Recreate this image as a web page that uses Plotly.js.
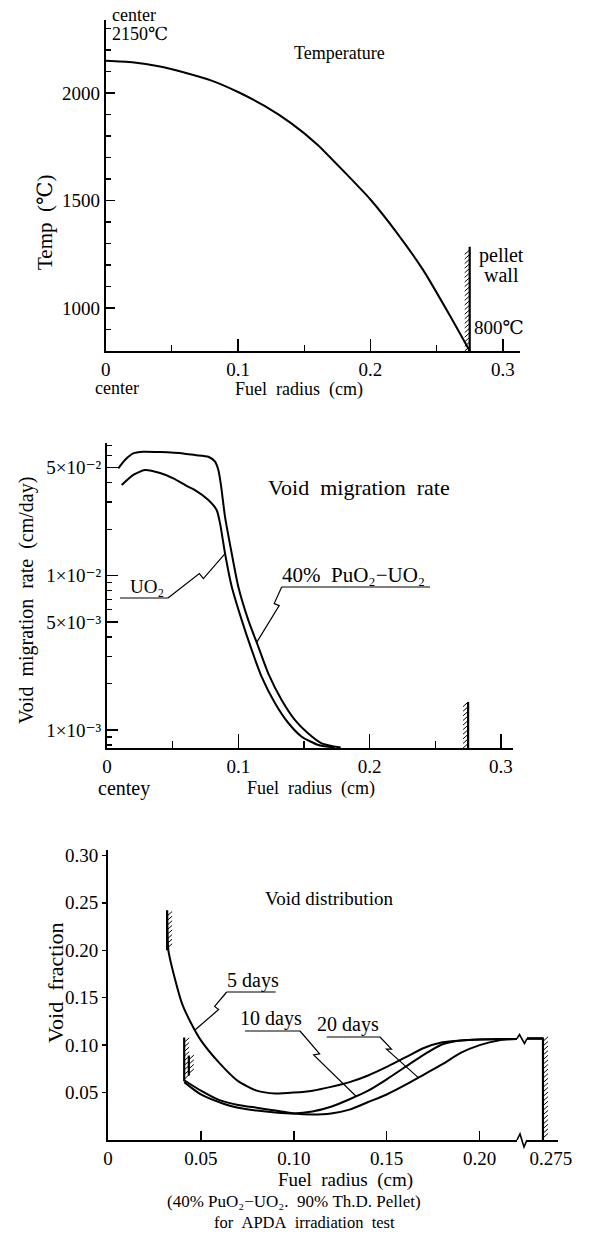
<!DOCTYPE html>
<html><head><meta charset="utf-8">
<script src="https://cdn.plot.ly/plotly-3.0.1.min.js"></script>
<style>html,body{margin:0;padding:0;background:#fff;} #chart{width:590px;height:1235px;}</style>
</head><body><div id="chart"></div>
<script>
// ---------------- data ----------------
// Temperature profile
const tempRadius = [0, 0.02, 0.04, 0.06, 0.08, 0.10, 0.12, 0.14, 0.16, 0.18, 0.20, 0.22, 0.24, 0.26, 0.275];
const tempValues = [2150, 2143, 2125, 2095, 2058, 2005, 1940, 1860, 1760, 1635, 1505, 1350, 1175, 965, 800];
const tempTickX = [0, 0.1, 0.2, 0.3];
const tempTickXText = ['0', '0.1', '0.2', '0.3'];
const tempTickY = [1000, 1500, 2000];
const tempTickYText = ['1000', '1500', '2000'];

// Void migration rate (cm/day)
const puRadius = [0.0086, 0.0137, 0.020, 0.0276, 0.0404, 0.0581, 0.067, 0.0772, 0.0823, 0.0848, 0.0868, 0.0899, 0.095, 0.100, 0.1076, 0.1152, 0.1228, 0.1331, 0.1432, 0.1533, 0.1635, 0.178];
const puRate   = [0.0495, 0.0561, 0.0619, 0.0634, 0.0631, 0.0619, 0.0604, 0.0589, 0.0547, 0.0483, 0.0386, 0.0240, 0.0139, 0.00847, 0.00515, 0.00347, 0.00233, 0.00156, 0.00116, 0.00095, 0.00082, 0.00077];
const uoRadius = [0.0112, 0.020, 0.0289, 0.0404, 0.0505, 0.0609, 0.067, 0.0772, 0.0835, 0.0861, 0.0899, 0.095, 0.1026, 0.1102, 0.1178, 0.128, 0.1381, 0.1483, 0.161, 0.1736];
const uoRate   = [0.0386, 0.0449, 0.0483, 0.0462, 0.0427, 0.0380, 0.0358, 0.0309, 0.0266, 0.0218, 0.0139, 0.00847, 0.00515, 0.0033, 0.00221, 0.00149, 0.00111, 0.000905, 0.0008, 0.00077];
const rateTickVals = [0.001, 0.005, 0.01, 0.05];
const rateTickText = ['1×10⁻³', '5×10⁻³', '1×10⁻²', '5×10⁻²'];
const rateMinorVals = [0.0008, 0.0009, 0.002, 0.003, 0.004, 0.006, 0.007, 0.008, 0.009, 0.02, 0.03, 0.04, 0.06, 0.07];
const rateTickX = [0, 0.1, 0.2, 0.3];
const rateTickXText = ['0', '0.1', '0.2', '0.3'];

// Void distribution (void fraction)
const day5Radius  = [0.0318, 0.0325, 0.036, 0.040, 0.045, 0.050, 0.060, 0.070, 0.080, 0.090, 0.100, 0.110, 0.120, 0.130, 0.140, 0.150, 0.160, 0.170, 0.180, 0.190, 0.200, 0.210, 0.275];
const day5Void    = [0.242, 0.200, 0.170, 0.143, 0.122, 0.105, 0.081, 0.062, 0.052, 0.049, 0.050, 0.052, 0.056, 0.061, 0.068, 0.077, 0.087, 0.097, 0.103, 0.105, 0.106, 0.1065, 0.107];
const day10Radius = [0.041, 0.050, 0.0625, 0.070, 0.080, 0.090, 0.100, 0.110, 0.120, 0.130, 0.140, 0.150, 0.160, 0.170, 0.180, 0.190, 0.200, 0.275];
const day10Void   = [0.061, 0.048, 0.038, 0.034, 0.031, 0.029, 0.028, 0.030, 0.035, 0.043, 0.052, 0.064, 0.077, 0.090, 0.101, 0.105, 0.106, 0.107];
const day20Radius = [0.041, 0.050, 0.060, 0.070, 0.080, 0.090, 0.100, 0.110, 0.120, 0.130, 0.140, 0.150, 0.160, 0.170, 0.180, 0.190, 0.200, 0.210, 0.220, 0.275];
const day20Void   = [0.063, 0.052, 0.042, 0.037, 0.034, 0.031, 0.028, 0.027, 0.028, 0.032, 0.040, 0.048, 0.058, 0.069, 0.080, 0.092, 0.100, 0.105, 0.1065, 0.107];
const voidTickX = [0, 0.05, 0.10, 0.15, 0.20];
const voidTickXText = ['0', '0.05', '0.10', '0.15', '0.20'];
const voidTickY = [0.05, 0.10, 0.15, 0.20, 0.25, 0.30];
const voidTickYText = ['0.05', '0.10', '0.15', '0.20', '0.25', '0.30'];

// pellet walls (data units)
const pelletWallRadius = 0.275;
const tempWallTop = 1285;
const rateWallTop = 0.00152;
const voidWallRadius = [0.0318, 0.041, 0.0435, 0.275];
const voidWallLow    = [0.200, 0.062, 0.068, 0];
const voidWallHigh   = [0.242, 0.108, 0.089, 0.108];

// ---------------- frame ----------------
const W = 590, H = 1235;
const P = {
  top:  {x0:105.7, x1:520, y0:351, y1:20},
  mid:  {x0:107,   x1:513, y0:748, y1:443},
  bot:  {x0:108,   x1:517, y0:1140, y1:850},
  bot2: {x0:527,   x1:558, y0:1140, y1:850}
};
const R = {
  top:  {x:[0,0.313],       y:[800,2340],        log:false},
  mid:  {x:[0,0.3092],      y:[-3.1166,-1.141],  log:true},
  bot:  {x:[0,0.2201],      y:[0,0.3057],        log:false},
  bot2: {x:[0.2664,0.2831], y:[0,0.3057],        log:false}
};
function px(k,r){const p=P[k],q=R[k];return p.x0+(r-q.x[0])/(q.x[1]-q.x[0])*(p.x1-p.x0);}
function py(k,v){const p=P[k],q=R[k];const f=q.log?Math.log10(v):v;return p.y0-(f-q.y[0])/(q.y[1]-q.y[0])*(p.y0-p.y1);}
const fx = x => x/W, fy = y => 1 - y/H;
function domX(k){return [fx(P[k].x0), fx(P[k].x1)];}
function domY(k){return [fy(P[k].y0), fy(P[k].y1)];}

const FONT = 'Liberation Serif, "DejaVu Serif", serif';
const shapes = [];
const annotations = [];
function pathStr(pts){return pts.map((p,i)=>(i?'L':'M')+fx(p[0]).toFixed(5)+','+fy(p[1]).toFixed(5)).join(' ');}
function lineShape(pts,w){shapes.push({type:'path',xref:'paper',yref:'paper',path:pathStr(pts),line:{color:'#000',width:w}});}
function multiShape(segs,w){shapes.push({type:'path',xref:'paper',yref:'paper',path:segs.map(pathStr).join(' '),line:{color:'#000',width:w}});}
function wall(k, r, v0, v1, side){
  const x=px(k,r), ya=py(k,v0), yb=py(k,v1);
  lineShape([[x,ya],[x,yb]],2.2);
  const segs=[];
  for(let y=ya-2; y>yb+2; y-=4.6){
    segs.push(side<0 ? [[x-5,y+2],[x,y-2.5]] : [[x,y],[x+5,y-4.5]]);
  }
  multiShape(segs,1);
}
function interp(xs, ys, r, log){
  for(let i=0;i<xs.length-1;i++){
    if(r>=xs[i] && r<=xs[i+1]){
      const t=(r-xs[i])/(xs[i+1]-xs[i]);
      if(log) return Math.pow(10, Math.log10(ys[i])+t*(Math.log10(ys[i+1])-Math.log10(ys[i])));
      return ys[i]+t*(ys[i+1]-ys[i]);
    }
  }
  return ys[ys.length-1];
}
function leader(k, S, r, xs, ys, t, jog){
  const T=[px(k,r), py(k, interp(xs,ys,r,R[k].log))];
  const P1=[S[0]+(T[0]-S[0])*t, S[1]+(T[1]-S[1])*t];
  const P2=[P1[0]+jog[0], P1[1]+jog[1]];
  lineShape([S,P1,P2,T],1.2);
}
function note(text,x,y,size,xanchor,angle){
  annotations.push({text:text, x:fx(x), y:fy(y), xref:'paper', yref:'paper', showarrow:false,
    xanchor:xanchor||'left', yanchor:'middle', textangle:angle||0, font:{family:FONT,size:size,color:'#000'}});
}
const S2 = '\u00a0\u00a0';

// ---------------- traces ----------------
const lineStyle = {color:'#000', width:2, shape:'spline', smoothing:0.6};
const traces = [
  {x:tempRadius, y:tempValues, xaxis:'x', yaxis:'y', mode:'lines', line:lineStyle, name:'Temperature'},
  {x:puRadius, y:puRate, xaxis:'x2', yaxis:'y2', mode:'lines', line:lineStyle, name:'40% PuO2-UO2'},
  {x:uoRadius, y:uoRate, xaxis:'x2', yaxis:'y2', mode:'lines', line:lineStyle, name:'UO2'}
];
[[day5Radius,day5Void,'5 days'],[day10Radius,day10Void,'10 days'],[day20Radius,day20Void,'20 days']].forEach(s=>{
  traces.push({x:s[0], y:s[1], xaxis:'x3', yaxis:'y3', mode:'lines', line:lineStyle, name:s[2]});
  traces.push({x:s[0], y:s[1], xaxis:'x4', yaxis:'y3', mode:'lines', line:lineStyle, name:s[2], showlegend:false});
});

// ---------------- decorations ----------------
wall('top', pelletWallRadius, R.top.y[0], tempWallTop, -1);
wall('mid', pelletWallRadius, Math.pow(10,R.mid.y[0]), rateWallTop, -1);
for(let i=0;i<voidWallRadius.length;i++){
  const k = voidWallRadius[i] > R.bot.x[1] ? 'bot2' : 'bot';
  wall(k, voidWallRadius[i], voidWallLow[i], voidWallHigh[i], 1);
}
// axis break and curve break on void distribution
lineShape([[517,1140],[520,1134],[524,1147],[527,1140]],1.6);
const yb = py('bot', 0.107);
lineShape([[517,yb],[519.5,yb-4],[524.5,yb+5],[527,yb]],1.6);

// labels with underlines and leaders
lineShape([[120,598],[168,598]],1.2);
leader('mid',[168,598],0.0899,uoRadius,uoRate,0.55,[4,5]);
lineShape([[281.7,587],[430,587]],1.2);
leader('mid',[281.7,587],0.114,puRadius,puRate,0.3,[5,2]);
lineShape([[226.7,992],[275.7,992]],1.2);
leader('bot',[226.7,992],0.0468,day5Radius,day5Void,0.38,[4,3]);
lineShape([[245,1031],[300,1031]],1.2);
leader('bot',[300,1031],0.1335,day10Radius,day10Void,0.35,[-6,1]);
lineShape([[326.7,1037],[380,1037]],1.2);
leader('bot',[380,1037],0.167,day20Radius,day20Void,0.3,[-5,0]);

// text
note('center',110,15,18);
note('2150℃',110,34,18);
note('Temperature',292,53,18);
note('pellet',501,255,20,'center');
note('wall',501,275,20,'center');
note('800℃',472,327,19);
note('Temp'+S2+'(℃)',45,222,21,'center',-90);
note('center',117,388,18,'center');
note('Fuel'+S2+'radius'+S2+'(cm)',233,389,18);

note('Void'+S2+'migration'+S2+'rate',266,487,22);
note('40%'+S2+'PuO₂−UO₂',280,575,21);
note('UO₂',128,586,19);
note('Void'+S2+'migration'+S2+'rate'+S2+'(cm/day)',26,601,20,'center',-90);
note('centey',124,788,20,'center');
note('Fuel'+S2+'radius'+S2+'(cm)',245,788,18);

note('Void\u00a0distribution',263,898,19);
note('5\u00a0days',225,980,20);
note('10\u00a0days',238,1018,20);
note('20\u00a0days',315,1024,20);
note('Void'+S2+'fraction',55,983,22,'center',-90);
note('Fuel'+S2+'radius'+S2+'(cm)',345,1180,19,'center');
note('(40%\u00a0PuO₂−UO₂.'+S2+'90%\u00a0Th.D.\u00a0Pellet)',294,1201,17,'center');
note('for'+S2+'APDA'+S2+'irradiation'+S2+'test',304,1222,16.5,'center');

// ---------------- axes ----------------
const tickFont = {family:FONT, size:19, color:'#000'};
const base = {showline:true, linecolor:'#000', linewidth:2, showgrid:false, zeroline:false, tickcolor:'#000',
  tickfont:tickFont, fixedrange:true, automargin:false};

const layout = {
  width:W, height:H, margin:{l:0,r:0,t:0,b:0}, paper_bgcolor:'#fff', plot_bgcolor:'rgba(0,0,0,0)',
  showlegend:false, font:{family:FONT, color:'#000'},
  xaxis: Object.assign({}, base, {domain:domX('top'), anchor:'y', range:R.top.x, tickmode:'array', tickvals:tempTickX, ticktext:tempTickXText,
    ticks:'inside', ticklen:12, tickwidth:1.5, minor:{tickmode:'linear', tick0:0, dtick:0.05, ticks:'inside', ticklen:6, tickwidth:1.2, tickcolor:'#000', showgrid:false}}),
  yaxis: Object.assign({}, base, {domain:domY('top'), anchor:'x', range:R.top.y, tickmode:'array', tickvals:tempTickY, ticktext:tempTickYText,
    ticks:'inside', ticklen:9, tickwidth:1.5, minor:{tickmode:'linear', tick0:0, dtick:100, ticks:'inside', ticklen:5, tickwidth:1.2, tickcolor:'#000', showgrid:false}}),
  xaxis2: Object.assign({}, base, {domain:domX('mid'), anchor:'y2', range:R.mid.x, tickmode:'array', tickvals:rateTickX, ticktext:rateTickXText,
    ticks:'inside', ticklen:14, tickwidth:1.5, minor:{tickmode:'linear', tick0:0, dtick:0.05, ticks:'inside', ticklen:7, tickwidth:1.2, tickcolor:'#000', showgrid:false}}),
  yaxis2: Object.assign({}, base, {domain:domY('mid'), anchor:'x2', type:'log', range:R.mid.y, tickmode:'array', tickvals:rateTickVals, ticktext:rateTickText,
    ticks:'inside', ticklen:11, tickwidth:1.5, minor:{tickmode:'array', tickvals:rateMinorVals, ticks:'inside', ticklen:5, tickwidth:1.2, tickcolor:'#000', showgrid:false}}),
  xaxis3: Object.assign({}, base, {domain:domX('bot'), anchor:'y3', range:R.bot.x, tickmode:'array', tickvals:voidTickX, ticktext:voidTickXText,
    ticks:'inside', ticklen:9, tickwidth:1.5}),
  xaxis4: Object.assign({}, base, {domain:domX('bot2'), anchor:'y3', range:R.bot2.x, tickmode:'array', tickvals:[pelletWallRadius], ticktext:['0.275'],
    ticks:'', ticklen:0, ticklabelshift:8}),
  yaxis3: Object.assign({}, base, {domain:domY('bot'), anchor:'x3', range:R.bot.y, tickmode:'array', tickvals:voidTickY, ticktext:voidTickYText,
    ticks:'outside', ticklen:4, tickwidth:1.5}),
  shapes: shapes,
  annotations: annotations
};

Plotly.newPlot('chart', traces, layout, {staticPlot:true, displayModeBar:false});
</script>
</body></html>
